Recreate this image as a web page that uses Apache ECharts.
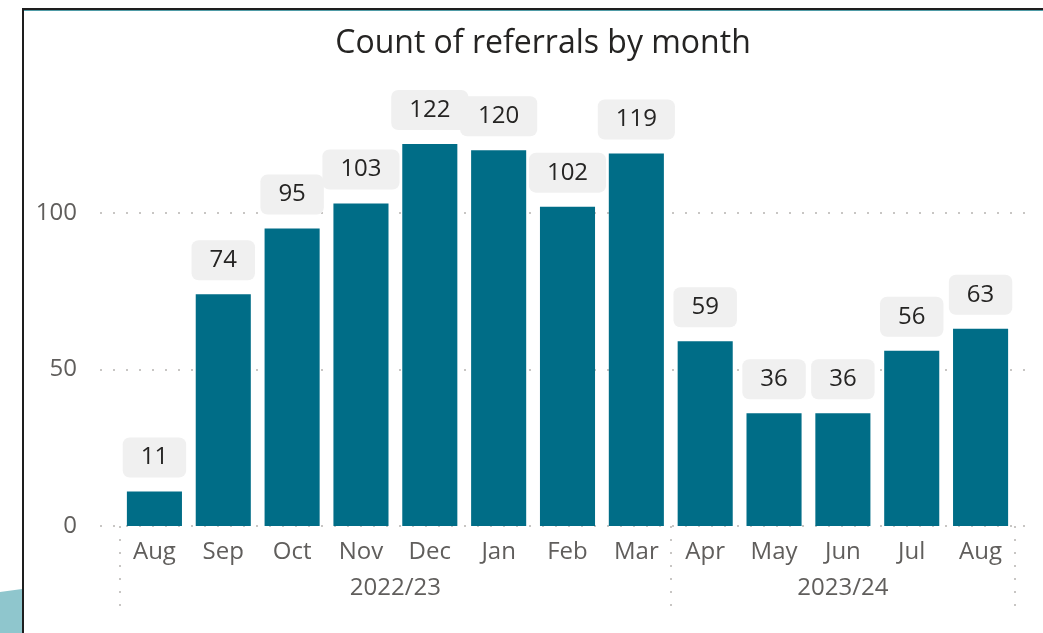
<!DOCTYPE html>
<html>
<head>
<meta charset="utf-8">
<script src="https://cdn.jsdelivr.net/npm/echarts@6/dist/echarts.min.js"></script>
<style>
  html, body { margin: 0; padding: 0; background: #ffffff; }
  #chart { width: 1043px; height: 633px; }
</style>
</head>
<body>
<div id="chart"></div>
<script>
// ---- data ----
const months = ['Aug', 'Sep', 'Oct', 'Nov', 'Dec', 'Jan', 'Feb', 'Mar', 'Apr', 'May', 'Jun', 'Jul', 'Aug'];
const referrals = [11, 74, 95, 103, 122, 120, 102, 119, 59, 36, 36, 56, 63];
const years = ['2022/23', '2023/24'];
const monthsPerYear = [8, 5];
const yTickStep = 50;
const yMax = 130;
const titleText = 'Count of referrals by month';

// ---- build the year (second level) axis: half-month slots ----
const slotCount = months.length * 2 + 1;
const yearSlots = new Array(slotCount).fill('');
const dividerSlots = new Set([0]);
let start = 0;
years.forEach((y, i) => {
  yearSlots[start * 2 + monthsPerYear[i]] = y;
  start += monthsPerYear[i];
  dividerSlots.add(start * 2);
});

const FONT = '"Segoe UI", "Open Sans", sans-serif';
const GRID_TOP = 119;
const GRID_BOTTOM = 107;

const chart = echarts.init(document.getElementById('chart'), null, { renderer: 'canvas' });

chart.setOption({
  backgroundColor: '#ffffff',
  animation: false,
  title: {
    text: titleText,
    left: 538,
    top: 23,
    textAlign: 'center',
    textStyle: { fontFamily: FONT, fontSize: 32, fontWeight: 'normal', color: '#252423' }
  },
  graphic: [
    { type: 'polygon', silent: true, shape: { points: [[0, 592], [22, 589], [22, 633], [0, 633]] }, style: { fill: '#8FC6CD' } },
    { type: 'line', silent: true, shape: { x1: 23, y1: 10.5, x2: 1043, y2: 10.5 }, style: { stroke: '#4F9BA6', lineWidth: 1 } },
    { type: 'line', silent: true, shape: { x1: 22, y1: 9, x2: 1043, y2: 9 }, style: { stroke: '#1E1E1E', lineWidth: 2 } },
    { type: 'line', silent: true, shape: { x1: 23, y1: 8, x2: 23, y2: 633 }, style: { stroke: '#1E1E1E', lineWidth: 2 } }
  ],
  grid: [
    { left: 100, right: 8, top: GRID_TOP, bottom: GRID_BOTTOM, containLabel: false },
    { left: 120, right: 28, top: GRID_TOP, bottom: GRID_BOTTOM, containLabel: false }
  ],
  xAxis: [
    { gridIndex: 0, type: 'value', show: false, min: 0, max: 1 },
    {
      gridIndex: 1, type: 'category', data: months, position: 'bottom',
      axisLine: { show: false }, axisTick: { show: false },
      axisLabel: { interval: 0, margin: 14, fontFamily: FONT, fontSize: 24, color: '#605E5C' }
    },
    {
      gridIndex: 1, type: 'category', data: yearSlots, boundaryGap: false, position: 'bottom',
      axisLine: { show: false },
      axisTick: {
        show: true, length: 82, interval: (i) => dividerSlots.has(i),
        lineStyle: { color: '#C8C6C4', width: 2, type: [2, 11] }
      },
      axisLabel: {
        interval: (i) => yearSlots[i] !== '', margin: 50,
        fontFamily: FONT, fontSize: 24, color: '#605E5C'
      }
    }
  ],
  yAxis: [
    {
      gridIndex: 0, type: 'value', min: 0, max: yMax, interval: yTickStep,
      axisLine: { show: false }, axisTick: { show: false },
      axisLabel: {
        margin: 23, showMaxLabel: false, fontFamily: FONT, fontSize: 24, color: '#605E5C',
        formatter: (v) => (v % yTickStep === 0 ? String(v) : '')
      },
      splitLine: { show: true, showMaxLine: false, lineStyle: { color: '#C8C6C4', width: 2, type: [2, 11] } }
    },
    { gridIndex: 1, type: 'value', min: 0, max: yMax, interval: yTickStep, show: false, splitLine: { show: false } }
  ],
  series: [
    {
      type: 'bar', xAxisIndex: 1, yAxisIndex: 1, data: referrals,
      barCategoryGap: '20%',
      itemStyle: { color: '#006D87' },
      label: {
        show: true, position: 'top', distance: 14,
        fontFamily: FONT, fontSize: 24, lineHeight: 24, color: '#252423',
        backgroundColor: '#F0F0F0', borderRadius: 7, padding: [8, 18]
      }
    }
  ]
});
</script>
</body>
</html>
